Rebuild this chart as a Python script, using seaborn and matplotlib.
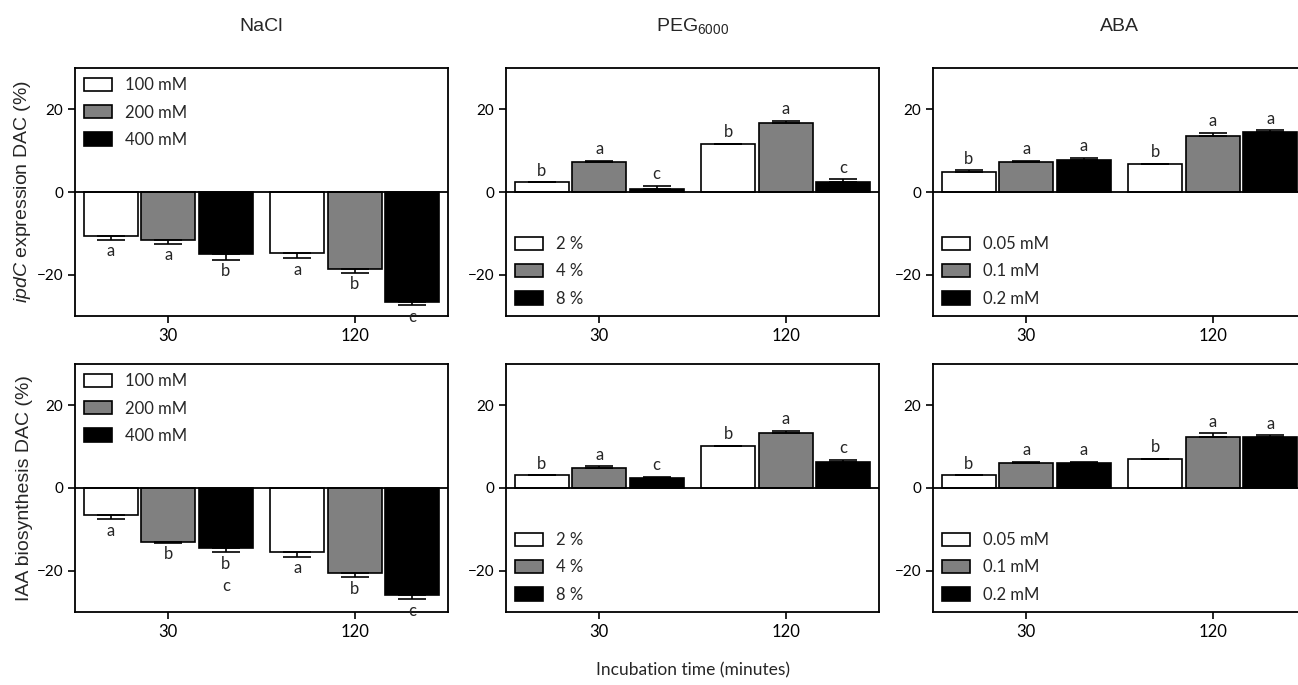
import numpy as np
import pandas as pd
import matplotlib.pyplot as plt
from matplotlib.patches import Patch
import seaborn as sns

# -----------------------------------------------
# Data (DAC %, one list per concentration: [30 min, 120 min])
# -----------------------------------------------
times = ['30', '120']
nacl_levels = ['100 mM', '200 mM', '400 mM']
peg_levels = ['2 %', '4 %', '8 %']
aba_levels = ['0.05 mM', '0.1 mM', '0.2 mM']

# ipdC expression
ipdc_nacl = [[-10.7, -14.8], [-11.5, -18.7], [-15.0, -26.7]]
ipdc_nacl_err = [[0.8, 1.2], [1.0, 0.8], [1.4, 0.7]]
ipdc_nacl_lbl = [['a', 'a'], ['a', 'b'], ['b', 'c']]

ipdc_peg = [[2.3, 11.7], [7.2, 16.6], [0.8, 2.3]]
ipdc_peg_err = [[0.0, 0.0], [0.4, 0.7], [0.7, 0.8]]
ipdc_peg_lbl = [['b', 'b'], ['a', 'a'], ['c', 'c']]

ipdc_aba = [[4.9, 6.8], [7.3, 13.5], [7.7, 14.4]]
ipdc_aba_err = [[0.4, 0.0], [0.3, 0.8], [0.6, 0.6]]
ipdc_aba_lbl = [['b', 'b'], ['a', 'a'], ['a', 'a']]

# IAA biosynthesis
iaa_nacl = [[-6.5, -15.5], [-13.0, -20.6], [-14.5, -26.0]]
iaa_nacl_err = [[1.1, 1.2], [0.3, 1.0], [1.0, 0.9]]
iaa_nacl_lbl = [['a', 'a'], ['b', 'b'], ['b\nc', 'c']]

iaa_peg = [[3.1, 10.2], [4.9, 13.2], [2.3, 6.3]]
iaa_peg_err = [[0.0, 0.0], [0.4, 0.7], [0.4, 0.5]]
iaa_peg_lbl = [['b', 'b'], ['a', 'a'], ['c', 'c']]

iaa_aba = [[3.1, 7.1], [6.0, 12.4], [6.0, 12.4]]
iaa_aba_err = [[0.0, 0.0], [0.4, 0.8], [0.4, 0.4]]
iaa_aba_lbl = [['b', 'b'], ['a', 'a'], ['a', 'a']]

bar_colors = ['white', '#808080', 'black']

# -----------------------------------------------
# Style
# -----------------------------------------------
sns.set_style('ticks')
plt.rcParams['font.family'] = ['Lato', 'DejaVu Sans']
plt.rcParams['mathtext.fontset'] = 'custom'
plt.rcParams['mathtext.rm'] = 'Liberation Sans'
plt.rcParams['mathtext.it'] = 'Liberation Sans:italic'
plt.rcParams['axes.linewidth'] = 1.3
plt.rcParams['axes.edgecolor'] = 'black'


def draw_panel(ax, levels, vals, errs, lbls, legend_loc):
    rows = []
    for lev, v in zip(levels, vals):
        for t, y in zip(times, v):
            rows.append({'time': t, 'conc': lev, 'value': y})
    df = pd.DataFrame(rows)
    sns.barplot(data=df, x='time', y='value', hue='conc', order=times, hue_order=levels,
                palette=bar_colors, saturation=1, edgecolor='black', linewidth=1.2,
                width=0.925, gap=0.06, errorbar=None, legend=False, ax=ax)

    for cont, ev, lv in zip(ax.containers, errs, lbls):
        for bar, e, lab in zip(cont, ev, lv):
            xc = bar.get_x() + bar.get_width() / 2
            h = bar.get_height()
            sgn = 1 if h >= 0 else -1
            yerr = [[0], [e]] if sgn > 0 else [[e], [0]]
            ax.errorbar(xc, h, yerr=yerr, fmt='none', ecolor='black',
                        elinewidth=1.2, capsize=10, capthick=1.2)
            ax.annotate(lab, (xc, h + sgn * e), xytext=(0, 2.5 * sgn),
                        textcoords='offset points', ha='center',
                        va='bottom' if sgn > 0 else 'top', fontsize=12,
                        linespacing=1.5)

    ax.axhline(0, color='black', lw=1.3)
    ax.set_xlim(-0.5, len(times) - 0.5)
    ax.set_ylim(-30, 30)
    ax.set_yticks([-20, 0, 20])
    ax.set_xlabel('')
    ax.set_ylabel('')
    ax.tick_params(direction='out', length=5, width=1.2, colors='black')
    ax.tick_params(axis='y', labelsize=11)
    ax.tick_params(axis='x', labelsize=12)

    handles = [Patch(facecolor=c, edgecolor='black', linewidth=1.2, label=lev)
               for c, lev in zip(bar_colors, levels)]
    ax.legend(handles=handles, loc=legend_loc, frameon=False, fontsize=12,
              borderaxespad=0.15, handlelength=1.65, handleheight=0.85,
              handletextpad=0.78, labelspacing=0.68)


fig = plt.figure(figsize=(12.98, 6.85), dpi=100)

lefts = [0.0578, 0.3898, 0.7188]
bottoms = [0.5387, 0.1066]
w, h = 0.2874, 0.362

panels = [
    [(nacl_levels, ipdc_nacl, ipdc_nacl_err, ipdc_nacl_lbl, 'upper left'),
     (peg_levels, ipdc_peg, ipdc_peg_err, ipdc_peg_lbl, 'lower left'),
     (aba_levels, ipdc_aba, ipdc_aba_err, ipdc_aba_lbl, 'lower left')],
    [(nacl_levels, iaa_nacl, iaa_nacl_err, iaa_nacl_lbl, 'upper left'),
     (peg_levels, iaa_peg, iaa_peg_err, iaa_peg_lbl, 'lower left'),
     (aba_levels, iaa_aba, iaa_aba_err, iaa_aba_lbl, 'lower left')],
]
titles = ['NaCl', r'$\mathregular{PEG_{6000}}$', 'ABA']
ylabels = [r'$\it{ipdC}$ expression DAC (%)', 'IAA biosynthesis DAC (%)']

for r in range(2):
    for c in range(3):
        ax = fig.add_axes([lefts[c], bottoms[r], w, h])
        draw_panel(ax, *panels[r][c])
        if r == 0:
            ax.set_title(titles[c], pad=27, fontsize=14, family='Liberation Sans')
        if c == 0:
            ax.set_ylabel(ylabels[r], fontsize=14, family='Liberation Sans')
            ax.yaxis.set_label_coords(-0.113, 0.5)

fig.text(0.534, 0.022, 'Incubation time (minutes)', ha='center', va='center', fontsize=12.5)

plt.savefig('out.png', dpi=100)
